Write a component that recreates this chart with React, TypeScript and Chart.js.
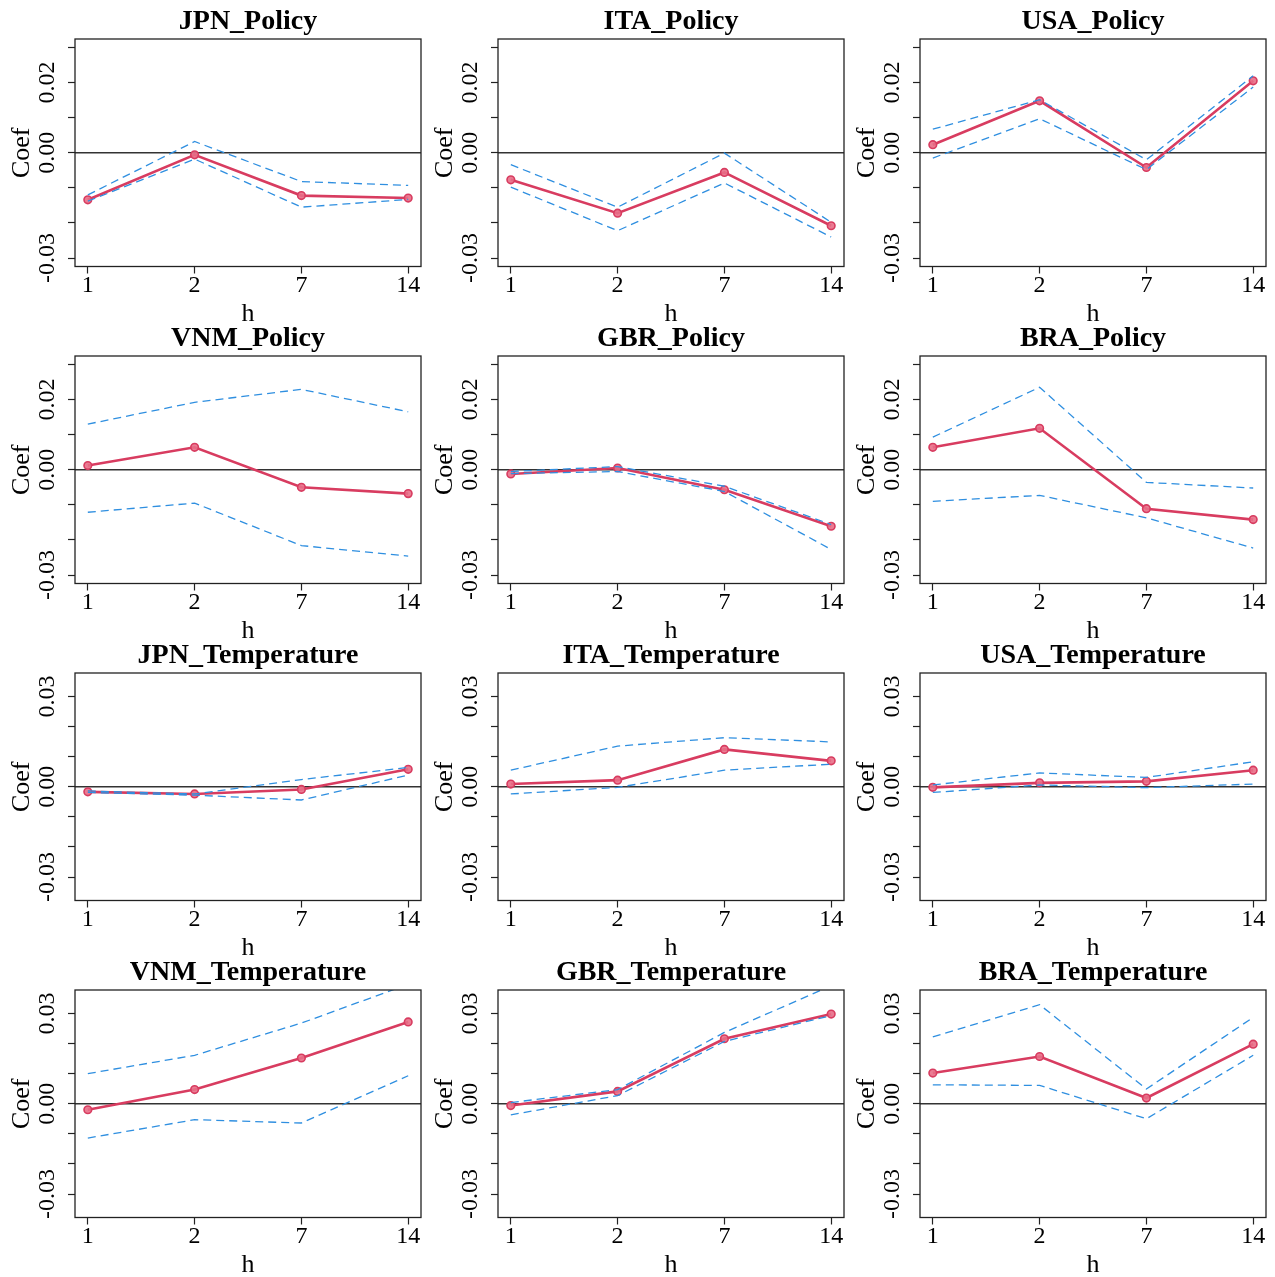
import React, { useEffect, useRef } from 'react';
import { Chart, registerables } from 'chart.js';

Chart.register(...registerables);

// ---------- data ----------
const hLabels = ['1', '2', '7', '14'];
const hIndex = [0, 1, 2, 3];

const policyTicks = [-0.03, -0.02, -0.01, 0, 0.01, 0.02, 0.03];
const policyTickLabels = [-0.03, 0, 0.02];
const policyLimit = 0.0324;

const temperatureTicks = [-0.03, -0.02, -0.01, 0, 0.01, 0.02, 0.03];
const temperatureTickLabels = [-0.03, 0, 0.03];
const temperatureLimit = 0.0378;

const jpnPolicyCoef = [-0.0134, -0.0006, -0.0122, -0.0129];
const jpnPolicyUpper = [-0.012, 0.0032, -0.0082, -0.0093];
const jpnPolicyLower = [-0.0138, -0.0018, -0.0155, -0.0133];

const itaPolicyCoef = [-0.0077, -0.0172, -0.0056, -0.0208];
const itaPolicyUpper = [-0.0034, -0.0155, -0.0001, -0.0198];
const itaPolicyLower = [-0.0098, -0.0222, -0.0086, -0.024];

const usaPolicyCoef = [0.0023, 0.0148, -0.0042, 0.0205];
const usaPolicyUpper = [0.0067, 0.0151, -0.002, 0.0219];
const usaPolicyLower = [-0.0015, 0.0097, -0.0048, 0.0187];

const vnmPolicyCoef = [0.0012, 0.0064, -0.005, -0.0068];
const vnmPolicyUpper = [0.013, 0.0192, 0.0229, 0.0165];
const vnmPolicyLower = [-0.0121, -0.0095, -0.0216, -0.0246];

const gbrPolicyCoef = [-0.0012, 0.0005, -0.0057, -0.0161];
const gbrPolicyUpper = [-0.0005, 0.0009, -0.0047, -0.0156];
const gbrPolicyLower = [-0.0011, -0.0005, -0.0062, -0.0227];

const braPolicyCoef = [0.0064, 0.0118, -0.0111, -0.0142];
const braPolicyUpper = [0.0093, 0.0235, -0.0036, -0.0052];
const braPolicyLower = [-0.009, -0.0073, -0.0137, -0.0223];

const jpnTempCoef = [-0.0017, -0.0024, -0.0009, 0.0058];
const jpnTempUpper = [-0.0014, -0.0024, 0.0024, 0.0064];
const jpnTempLower = [-0.0019, -0.0028, -0.0044, 0.0039];

const itaTempCoef = [0.0009, 0.0022, 0.0124, 0.0086];
const itaTempUpper = [0.0055, 0.0135, 0.0163, 0.0149];
const itaTempLower = [-0.0024, -0.0002, 0.0055, 0.0075];

const usaTempCoef = [-0.0002, 0.0013, 0.0018, 0.0055];
const usaTempUpper = [0.0006, 0.0046, 0.0031, 0.0083];
const usaTempLower = [-0.0019, 0.0006, -0.0003, 0.0009];

const vnmTempCoef = [-0.002, 0.0047, 0.0152, 0.0272];
const vnmTempUpper = [0.01, 0.0161, 0.0268, 0.0397];
const vnmTempLower = [-0.0114, -0.0053, -0.0064, 0.0093];

const gbrTempCoef = [-0.0006, 0.0041, 0.0216, 0.0298];
const gbrTempUpper = [0.0004, 0.0047, 0.0237, 0.0392];
const gbrTempLower = [-0.0037, 0.0027, 0.0207, 0.0293];

const braTempCoef = [0.0102, 0.0157, 0.0019, 0.0198];
const braTempUpper = [0.0222, 0.0329, 0.0049, 0.0287];
const braTempLower = [0.0063, 0.0061, -0.005, 0.0161];

type Kind = 'policy' | 'temperature';
type PanelSpec = { title: string; kind: Kind; coef: number[]; upper: number[]; lower: number[] };

const panels: PanelSpec[] = [
  { title: 'JPN_Policy', kind: 'policy', coef: jpnPolicyCoef, upper: jpnPolicyUpper, lower: jpnPolicyLower },
  { title: 'ITA_Policy', kind: 'policy', coef: itaPolicyCoef, upper: itaPolicyUpper, lower: itaPolicyLower },
  { title: 'USA_Policy', kind: 'policy', coef: usaPolicyCoef, upper: usaPolicyUpper, lower: usaPolicyLower },
  { title: 'VNM_Policy', kind: 'policy', coef: vnmPolicyCoef, upper: vnmPolicyUpper, lower: vnmPolicyLower },
  { title: 'GBR_Policy', kind: 'policy', coef: gbrPolicyCoef, upper: gbrPolicyUpper, lower: gbrPolicyLower },
  { title: 'BRA_Policy', kind: 'policy', coef: braPolicyCoef, upper: braPolicyUpper, lower: braPolicyLower },
  { title: 'JPN_Temperature', kind: 'temperature', coef: jpnTempCoef, upper: jpnTempUpper, lower: jpnTempLower },
  { title: 'ITA_Temperature', kind: 'temperature', coef: itaTempCoef, upper: itaTempUpper, lower: itaTempLower },
  { title: 'USA_Temperature', kind: 'temperature', coef: usaTempCoef, upper: usaTempUpper, lower: usaTempLower },
  { title: 'VNM_Temperature', kind: 'temperature', coef: vnmTempCoef, upper: vnmTempUpper, lower: vnmTempLower },
  { title: 'GBR_Temperature', kind: 'temperature', coef: gbrTempCoef, upper: gbrTempUpper, lower: gbrTempLower },
  { title: 'BRA_Temperature', kind: 'temperature', coef: braTempCoef, upper: braTempUpper, lower: braTempLower },
];

// ---------- styling / layout ----------
const FONT = '"Liberation Serif", "Times New Roman", serif';
const RED = '#D83C60';
const BLUE = '#2F8FE0';
const AXIS_W = 75;
const PLOT_W = 346;
const CELL_W = AXIS_W + PLOT_W + AXIS_W; // symmetric so the title centres over the plot
const CELL_H = 330;
const TITLE_H = 39;
const PLOT_H = 227.5;
const ROW_PITCH = 317;
const COL_LEFTS = [0, 423, 845];

const framePlugin = {
  id: 'rframe',
  beforeDatasetsDraw(chart: any) {
    const { ctx, chartArea: a, scales } = chart;
    const y0 = scales.y.getPixelForValue(0);
    ctx.save();
    ctx.strokeStyle = '#333333';
    ctx.lineWidth = 1.3;
    ctx.beginPath();
    ctx.moveTo(a.left, y0);
    ctx.lineTo(a.right, y0);
    ctx.stroke();
    ctx.restore();
  },
  afterDraw(chart: any) {
    const { ctx, chartArea: a } = chart;
    ctx.save();
    ctx.strokeStyle = '#222222';
    ctx.lineWidth = 1.3;
    ctx.strokeRect(a.left, a.top, a.right - a.left, a.bottom - a.top);
    ctx.restore();
  },
};

function Panel({ spec, left, top }: { spec: PanelSpec; left: number; top: number }) {
  const ref = useRef<HTMLCanvasElement | null>(null);
  useEffect(() => {
    if (!ref.current) return;
    const isPolicy = spec.kind === 'policy';
    const lim = isPolicy ? policyLimit : temperatureLimit;
    const yTicks = isPolicy ? policyTicks : temperatureTicks;
    const yLabels = isPolicy ? policyTickLabels : temperatureTickLabels;
    const pts = (arr: number[]) => arr.map((v, i) => ({ x: hIndex[i], y: v }));
    const dashed = (arr: number[]) => ({
      data: pts(arr),
      borderColor: BLUE,
      borderWidth: 1.3,
      borderDash: [8, 5],
      pointRadius: 0,
      fill: false,
      tension: 0,
    });
    const chart = new Chart(ref.current, {
      type: 'line',
      data: {
        datasets: [
          dashed(spec.upper) as any,
          dashed(spec.lower) as any,
          {
            data: pts(spec.coef),
            borderColor: RED,
            borderWidth: 2.6,
            pointRadius: 3.8,
            pointBorderWidth: 1.6,
            pointBorderColor: RED,
            pointBackgroundColor: 'rgba(232,110,135,0.9)',
            fill: false,
            tension: 0,
          },
        ],
      },
      options: {
        animation: false,
        responsive: false,
        maintainAspectRatio: false,
        events: [],
        layout: { padding: 0, autoPadding: false },
        plugins: {
          legend: { display: false },
          tooltip: { enabled: false },
          title: {
            display: true,
            text: spec.title,
            color: '#000',
            font: { family: FONT, size: 28, weight: 'bold', lineHeight: 1 },
            padding: { top: 8, bottom: TITLE_H - 28 - 8 },
          },
        },
        scales: {
          x: {
            type: 'linear',
            position: 'bottom',
            min: -0.12,
            max: 3.12,
            afterBuildTicks: (scale: any) => {
              scale.ticks = hIndex.map((v) => ({ value: v }));
            },
            afterFit: (scale: any) => {
              scale.height = CELL_H - TITLE_H - PLOT_H;
              scale.paddingLeft = 0;
              scale.paddingRight = 0;
            },
            grid: {
              drawOnChartArea: false,
              drawTicks: true,
              tickLength: 7,
              tickColor: '#222',
              tickWidth: 1.2,
            },
            border: { display: false },
            ticks: {
              autoSkip: false,
              maxRotation: 0,
              minRotation: 0,
              padding: 0,
              color: '#000',
              font: { family: FONT, size: 24, lineHeight: 1 },
              callback: (value: any) => hLabels[Math.round(Number(value))] ?? '',
            },
            title: {
              display: true,
              text: 'h',
              color: '#000',
              font: { family: FONT, size: 26, lineHeight: 1 },
              padding: { top: 0, bottom: 3 },
            },
          },
          y: {
            type: 'linear',
            position: 'left',
            min: -lim,
            max: lim,
            afterBuildTicks: (scale: any) => {
              scale.ticks = yTicks.map((v) => ({ value: v }));
            },
            afterFit: (scale: any) => {
              scale.width = AXIS_W;
              scale.paddingTop = 0;
              scale.paddingBottom = 0;
            },
            grid: {
              drawOnChartArea: false,
              drawTicks: true,
              tickLength: 7,
              tickColor: '#222',
              tickWidth: 1.2,
            },
            border: { display: false },
            ticks: {
              autoSkip: false,
              minRotation: 90,
              maxRotation: 90,
              crossAlign: 'center',
              padding: -5,
              color: '#000',
              font: { family: FONT, size: 24, lineHeight: 1 },
              callback: (value: any) => {
                const v = Number(value);
                const hit = yLabels.find((t) => Math.abs(t - v) < 1e-9);
                return hit === undefined ? '' : hit.toFixed(2);
              },
            },
            title: {
              display: true,
              text: 'Coef',
              color: '#000',
              font: { family: FONT, size: 26, lineHeight: 1 },
              padding: { top: 9, bottom: 0 },
            },
          },
          // empty right-hand spacer axis so the panel title is centred over the plot region
          spacer: {
            type: 'linear',
            position: 'right',
            min: -lim,
            max: lim,
            grid: { display: false, drawTicks: false },
            border: { display: false },
            ticks: { display: false },
            afterFit: (scale: any) => {
              scale.width = AXIS_W;
              scale.paddingTop = 0;
              scale.paddingBottom = 0;
            },
          },
        },
      } as any,
      plugins: [framePlugin as any],
    });
    return () => chart.destroy();
  }, [spec]);

  return (
    <canvas
      ref={ref}
      width={CELL_W}
      height={CELL_H}
      style={{ position: 'absolute', left, top, width: CELL_W, height: CELL_H }}
    />
  );
}

export default function App() {
  return (
    <div
      style={{
        position: 'absolute',
        left: 0,
        top: 0,
        width: 1275,
        height: 1277,
        background: '#ffffff',
        overflow: 'hidden',
      }}
    >
      {panels.map((p, i) => (
        <Panel key={p.title} spec={p} left={COL_LEFTS[i % 3]} top={Math.floor(i / 3) * ROW_PITCH} />
      ))}
    </div>
  );
}
